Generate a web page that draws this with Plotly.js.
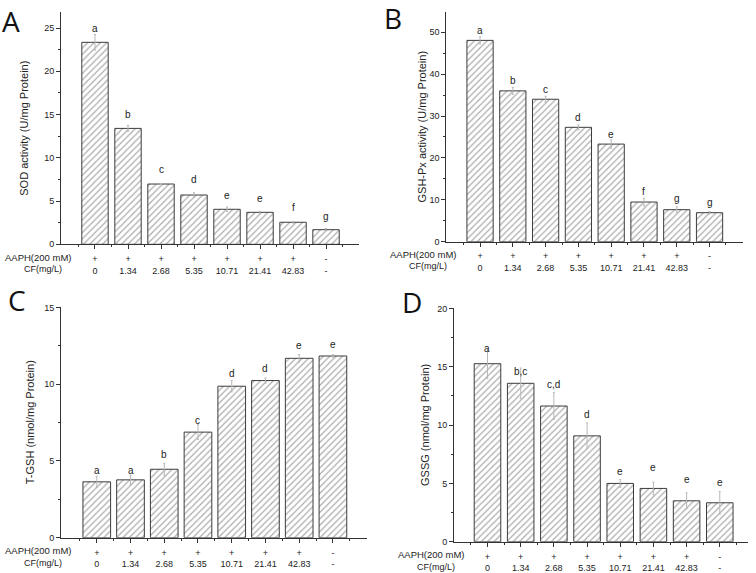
<!DOCTYPE html>
<html><head><meta charset="utf-8">
<script src="https://cdn.plot.ly/plotly-3.0.1.min.js"></script>
<style>html,body{margin:0;padding:0;background:#fff}#chart{width:756px;height:573px}</style>
</head><body><div id="chart"></div>
<script>
// ---- data ----
const groupIdx = [0, 1, 2, 3, 4, 5, 6, 7];
const aaphRow = ["+", "+", "+", "+", "+", "+", "+", "-"];
const cfRow = ["0", "1.34", "2.68", "5.35", "10.71", "21.41", "42.83", "-"];

const sodValues = [23.35, 13.4, 6.97, 5.7, 4.05, 3.7, 2.55, 1.69];
const sodErrors = [0.9, 0.35, 0.05, 0.27, 0.25, 0.12, 0.1, 0.15];
const sodLetters = ["a", "b", "c", "d", "e", "e", "f", "g"];
const sodLetterY = [25.0, 15.05, 8.6, 7.45, 5.7, 5.3, 4.25, 3.25];

const gshpxValues = [48.05, 36.0, 34.0, 27.3, 23.3, 9.47, 7.64, 6.92];
const gshpxErrors = [0.85, 0.85, 0.7, 0.6, 1.0, 0.9, 0.7, 0.3];
const gshpxLetters = ["a", "b", "c", "d", "e", "f", "g", "g"];
const gshpxLetterY = [50.3, 38.4, 36.4, 29.7, 25.7, 11.9, 10.2, 9.4];

const tgshValues = [3.64, 3.77, 4.46, 6.88, 9.87, 10.24, 11.69, 11.84];
const tgshErrors = [0.36, 0.3, 0.39, 0.48, 0.37, 0.17, 0.24, 0.08];
const tgshLetters = ["a", "a", "b", "c", "d", "d", "e", "e"];
const tgshLetterY = [4.4, 4.4, 5.43, 7.64, 10.67, 11.0, 12.5, 12.6];

const gssgValues = [15.27, 13.59, 11.64, 9.08, 5.0, 4.57, 3.51, 3.34];
const gssgErrors = [1.29, 1.31, 1.15, 1.11, 0.34, 0.54, 0.69, 0.97];
const gssgLetters = ["a", "b,c", "c,d", "d", "e", "e", "e", "e"];
const gssgLetterY = [16.6, 14.6, 13.5, 10.9, 6.05, 6.4, 5.34, 5.11];

const yTitles = ["SOD activity (U/mg Protein)", "GSH-Px activity (U/mg Protein)", "T-GSH (nmol/mg Protein)", "GSSG (nmol/mg Protein)"];
const panelLabels = ["A", "B", "C", "D"];

// ---- panels (layout only) ----
const panels = [
  {key: "", vals: sodValues, errs: sodErrors, letters: sodLetters, ly: sodLetterY,
   xdom: [0.0807, 0.4749], ydom: [0.5736, 0.979], yr: [0, 26.85], dtick: 5, xr: [-1.03, 8.0], bw: 0.8,
   standoff: 13, labelPos: [11, 21]},
  {key: "2", vals: gshpxValues, errs: gshpxErrors, letters: gshpxLetters, ly: gshpxLetterY,
   xdom: [0.5903, 0.9828], ydom: [0.5782, 0.9796], yr: [0, 54.9], dtick: 10, xr: [-1.03, 8.02], bw: 0.8,
   standoff: 0, labelPos: [393, 18]},
  {key: "3", vals: tgshValues, errs: tgshErrors, letters: tgshLetters, ly: tgshLetterY,
   xdom: [0.0807, 0.485], ydom: [0.0616, 0.4647], yr: [0, 15.05], dtick: 5, xr: [-1.06, 8.0], bw: 0.82,
   standoff: 7, labelPos: [17, 300]},
  {key: "4", vals: gssgValues, errs: gssgErrors, letters: gssgLetters, ly: gssgLetterY,
   xdom: [0.6005, 0.9894], ydom: [0.0546, 0.4625], yr: [0, 20.05], dtick: 5, xr: [-1.01, 7.85], bw: 0.8,
   standoff: 5, labelPos: [412, 302]}
];

const FONT = "Liberation Sans, Arial, sans-serif";
const tickText = groupIdx.map(i => aaphRow[i] + "<br>" + cfRow[i]);
const minorVals = [-0.5, 0.5, 1.5, 2.5, 3.5, 4.5, 5.5, 6.5, 7.5];

const traces = [];
const layout = {
  width: 756, height: 573,
  margin: {l: 0, r: 0, t: 0, b: 0},
  paper_bgcolor: "#fff", plot_bgcolor: "rgba(0,0,0,0)",
  showlegend: false,
  font: {family: FONT, size: 9, color: "#222"},
  annotations: []
};

panels.forEach((p, pi) => {
  const xa = "x" + p.key, ya = "y" + p.key;
  traces.push({
    type: "bar", x: groupIdx, y: p.vals, xaxis: xa, yaxis: ya,
    width: p.bw,
    marker: {
      color: "#ffffff",
      line: {color: "#3c3c3c", width: 1},
      pattern: {shape: "/", fgcolor: "#5a5a5a", bgcolor: "#ffffff", size: 4.5, solidity: 0.28, fillmode: "overlay"}
    },
    error_y: {type: "data", array: p.errs, visible: true, color: "#b8b8b8", thickness: 1, width: 1},
    hoverinfo: "skip"
  });
  layout["xaxis" + p.key] = {
    domain: p.xdom, anchor: ya, range: p.xr,
    showline: true, linecolor: "#333", linewidth: 1,
    showgrid: false, zeroline: false,
    ticks: "outside", ticklen: 4, tickcolor: "#333",
    tickmode: "array", tickvals: groupIdx, ticktext: tickText,
    ticklabelstandoff: 2,
    tickfont: {family: FONT, size: 9, color: "#222"},
    minor: {tickmode: "array", tickvals: minorVals, ticks: "outside", ticklen: 2, tickcolor: "#333", showgrid: false},
    fixedrange: true
  };
  layout["yaxis" + p.key] = {
    domain: p.ydom, anchor: xa, range: p.yr,
    showline: true, linecolor: "#333", linewidth: 1,
    showgrid: false, zeroline: false,
    ticks: "outside", ticklen: 4, tickcolor: "#333",
    dtick: p.dtick, tick0: 0,
    tickfont: {family: FONT, size: 9, color: "#222"},
    minor: {dtick: p.dtick / 2, tick0: 0, ticks: "outside", ticklen: 2, tickcolor: "#333", showgrid: false},
    title: {text: yTitles[pi], font: {family: FONT, size: 11, color: "#222"}, standoff: p.standoff},
    fixedrange: true
  };
  // significance letters
  p.letters.forEach((t, i) => {
    layout.annotations.push({
      x: groupIdx[i], y: p.ly[i], xref: xa, yref: ya, text: t, showarrow: false,
      font: {family: FONT, size: 10, color: "#222"}, xanchor: "center", yanchor: "middle"
    });
  });
  // row labels
  const x0 = p.xdom[0];
  layout.annotations.push({
    x: x0 + 13 / 756, y: p.ydom[0], xref: "paper", yref: "paper", yshift: -12.8,
    text: "AAPH(200 mM)", showarrow: false, xanchor: "right", yanchor: "middle",
    font: {family: FONT, size: 9.5, color: "#222"}
  });
  layout.annotations.push({
    x: x0 + 3 / 756, y: p.ydom[0], xref: "paper", yref: "paper", yshift: -24.8,
    text: "CF(mg/L)", showarrow: false, xanchor: "right", yanchor: "middle",
    font: {family: FONT, size: 9, color: "#222"}
  });
  // panel letter
  layout.annotations.push({
    x: p.labelPos[0] / 756, y: 1 - p.labelPos[1] / 573, xref: "paper", yref: "paper",
    text: panelLabels[pi], showarrow: false, xanchor: "center", yanchor: "middle",
    font: {family: "Open Sans, sans-serif", size: 28, color: "#111"}
  });
});

Plotly.newPlot("chart", traces, layout, {staticPlot: true, displayModeBar: false});
</script>
</body></html>
